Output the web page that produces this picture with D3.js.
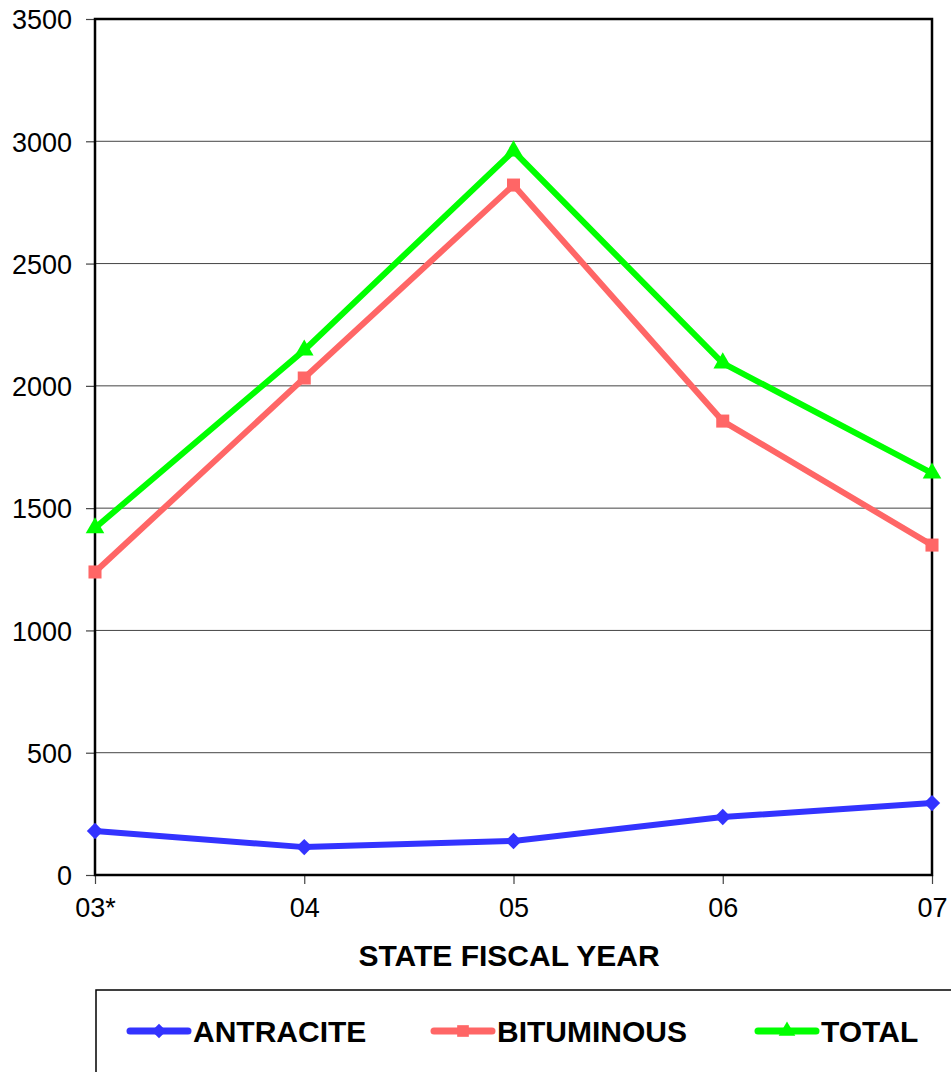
<!DOCTYPE html>
<html>
<head>
<meta charset="utf-8">
<script src="https://cdn.jsdelivr.net/npm/d3@7"></script>
<style>
html,body{margin:0;padding:0;background:#fff;}
svg{display:block;font-family:"Liberation Sans",Arial,sans-serif;}
</style>
</head>
<body>
<svg id="chart" width="951" height="1072"></svg>
<script>
const categories = ["03*", "04", "05", "06", "07"];
const antracite = [180, 114, 139, 237, 294];
const bituminous = [1239, 2032, 2821, 1856, 1349];
const total = [1419, 2146, 2960, 2093, 1643];
const yTicks = [0, 500, 1000, 1500, 2000, 2500, 3000, 3500];
const seriesNames = ["ANTRACITE", "BITUMINOUS", "TOTAL"];
const seriesColors = ["#3333ff", "#ff6666", "#00ff00"];

const svg = d3.select("#chart");
const L = 95, R = 932, T = 19, B = 875;

const x = d3.scalePoint().domain(categories).range([L, R]).padding(0);
const y = d3.scaleLinear().domain([0, 3500]).range([B, T]);

// gridlines
svg.append("g").selectAll("line").data(yTicks.filter(d => d > 0 && d < 3500)).join("line")
  .attr("x1", L).attr("x2", R).attr("y1", d => y(d)).attr("y2", d => y(d))
  .attr("stroke", "#444").attr("stroke-width", 1);

// y axis
const yAxis = svg.append("g").attr("transform", `translate(${L},0)`)
  .call(d3.axisLeft(y).tickValues(yTicks).tickSize(9).tickPadding(14).tickFormat(d3.format("d")));
yAxis.select(".domain").remove();
yAxis.selectAll(".tick line").attr("stroke", "#444").attr("stroke-width", 1.2);
yAxis.selectAll(".tick text").attr("font-size", 27).attr("fill", "#000")
  .attr("font-family", "Liberation Sans, Arial, sans-serif").attr("dy", "0.36em");

// x axis
const xAxis = svg.append("g").attr("transform", `translate(0,${B})`)
  .call(d3.axisBottom(x).tickSize(9).tickPadding(11));
xAxis.select(".domain").remove();
xAxis.selectAll(".tick line").attr("stroke", "#444").attr("stroke-width", 1.2);
xAxis.selectAll(".tick text").attr("font-size", 27).attr("fill", "#000")
  .attr("font-family", "Liberation Sans, Arial, sans-serif").attr("dy", "0.8em");

// plot border
svg.append("rect").attr("x", L).attr("y", T).attr("width", R - L).attr("height", B - T)
  .attr("fill", "none").attr("stroke", "#000").attr("stroke-width", 2.5);

// series
const allSeries = [antracite, bituminous, total];
const symbols = [d3.symbolDiamond2, d3.symbolSquare, d3.symbolTriangle];
const symSizes = [170, 170, 150];
const line = d3.line().x((d, i) => x(categories[i])).y(d => y(d));

allSeries.forEach((vals, si) => {
  const g = svg.append("g");
  g.append("path").datum(vals).attr("d", line).attr("fill", "none")
    .attr("stroke", seriesColors[si]).attr("stroke-width", 6).attr("stroke-linejoin", "miter");
  g.selectAll("path.m").data(vals).join("path").attr("class", "m")
    .attr("transform", (d, i) => `translate(${x(categories[i])},${y(d)})`)
    .attr("d", d3.symbol().type(symbols[si]).size(symSizes[si]))
    .attr("fill", seriesColors[si]);
});

// x title
svg.append("text").attr("x", 509).attr("y", 966).attr("text-anchor", "middle")
  .attr("font-size", 30).attr("font-weight", "bold").text("STATE FISCAL YEAR");

// legend
svg.append("rect").attr("x", 96).attr("y", 990).attr("width", 900).attr("height", 120)
  .attr("fill", "none").attr("stroke", "#000").attr("stroke-width", 1.5);
const legX = [130, 434, 758];
seriesNames.forEach((n, si) => {
  const g = svg.append("g").attr("transform", `translate(${legX[si]},1031)`);
  g.append("line").attr("x1", 0).attr("x2", 58).attr("y1", 0).attr("y2", 0)
    .attr("stroke", seriesColors[si]).attr("stroke-width", 7).attr("stroke-linecap", "round");
  g.append("path").attr("transform", "translate(29,0)")
    .attr("d", d3.symbol().type(symbols[si]).size(symSizes[si] * 0.8)).attr("fill", seriesColors[si]);
  g.append("text").attr("x", 63).attr("y", 11).attr("font-size", 30).attr("font-weight", "bold").text(n);
});
</script>
</body>
</html>
